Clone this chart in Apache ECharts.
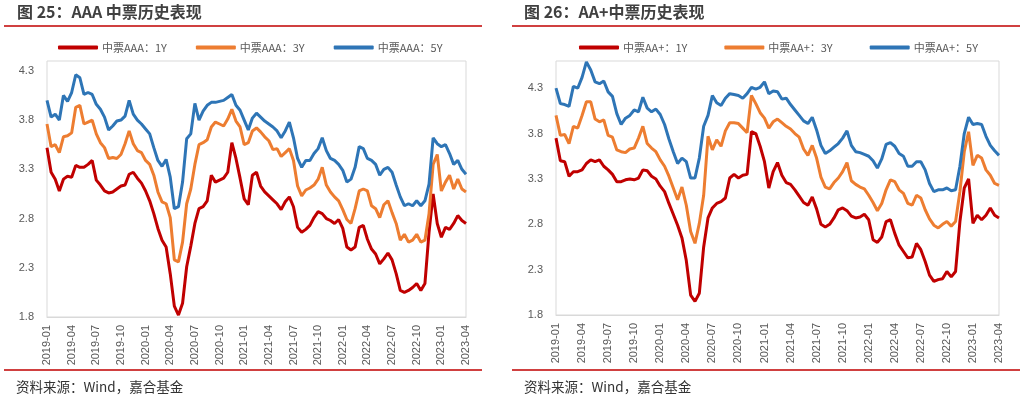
<!DOCTYPE html>
<html>
<head>
<meta charset="utf-8">
<script src="https://cdn.jsdelivr.net/npm/echarts@6/dist/echarts.min.js"></script>
<style>html,body{margin:0;padding:0;background:#fff;}#c{width:1024px;height:403px;}</style>
</head>
<body>
<div id="c"></div>
<script>
// Semi-monthly category axis, 2019-01 .. 2023-04
const dates = [];
for (let y = 2019; y <= 2023; y++) {
  for (let m = 1; m <= 12; m++) {
    if (y === 2023 && m > 3) break;
    const mm = (m < 10 ? '0' : '') + m;
    dates.push(y + '-' + mm + '-01');
    dates.push(y + '-' + mm + '-16');
  }
}
dates.push('2023-04-01');

const yTicksLeft = [1.8, 2.3, 2.8, 3.3, 3.8, 4.3];
const yTicksRight = [1.8, 2.3, 2.8, 3.3, 3.8, 4.3];

const namesLeft = ['中票AAA：1Y', '中票AAA：3Y', '中票AAA：5Y'];
const namesRight = ['中票AA+：1Y', '中票AA+：3Y', '中票AA+：5Y'];

const aaa1Y = [3.52,3.27,3.20,3.08,3.20,3.23,3.22,3.34,3.32,3.32,3.35,3.39,3.19,3.14,3.08,3.06,3.07,3.10,3.13,3.14,
  3.25,3.27,3.21,3.16,3.08,2.98,2.85,2.70,2.58,2.51,2.24,1.91,1.82,1.94,2.31,2.52,2.75,2.90,2.92,2.98,
  3.24,3.17,3.19,3.21,3.27,3.57,3.41,3.21,3.00,2.94,3.24,3.27,3.13,3.07,3.03,2.99,2.95,2.89,2.97,3.02,
  2.92,2.71,2.66,2.69,2.73,2.81,2.87,2.85,2.80,2.78,2.75,2.79,2.70,2.51,2.48,2.51,2.71,2.73,2.59,2.49,
  2.44,2.34,2.39,2.45,2.38,2.24,2.07,2.05,2.07,2.10,2.14,2.07,2.14,2.66,3.05,2.75,2.61,2.71,2.69,2.75,
  2.83,2.78,2.75];
const aaa3Y = [3.76,3.53,3.55,3.47,3.63,3.64,3.67,3.93,3.95,3.76,3.78,3.80,3.66,3.57,3.52,3.41,3.42,3.41,3.45,3.56,
  3.69,3.56,3.49,3.47,3.39,3.35,3.24,3.07,2.97,2.95,2.81,2.38,2.36,2.56,2.95,3.10,3.35,3.55,3.57,3.60,
  3.73,3.78,3.76,3.74,3.81,3.91,3.79,3.73,3.55,3.57,3.69,3.72,3.68,3.63,3.59,3.50,3.51,3.43,3.47,3.51,
  3.39,3.13,3.03,3.09,3.11,3.14,3.20,3.32,3.14,3.07,3.02,2.98,2.89,2.79,2.75,2.90,3.08,3.10,3.08,2.93,
  2.90,2.81,2.94,2.98,2.86,2.75,2.58,2.64,2.56,2.58,2.64,2.56,2.58,2.85,3.35,3.45,3.08,3.17,3.24,3.10,
  3.20,3.10,3.07];
const aaa5Y = [4.00,3.83,3.86,3.80,4.05,3.99,4.08,4.26,4.23,4.06,4.08,4.06,3.96,3.91,3.83,3.70,3.74,3.79,3.80,3.84,
  4.00,3.86,3.80,3.76,3.71,3.66,3.52,3.39,3.33,3.40,3.22,2.90,2.92,3.17,3.61,3.66,3.97,3.80,3.89,3.95,
  3.98,3.98,3.99,4.00,4.03,4.06,3.95,3.90,3.80,3.70,3.82,3.87,3.83,3.79,3.76,3.73,3.69,3.62,3.69,3.78,
  3.62,3.41,3.32,3.39,3.39,3.46,3.51,3.62,3.49,3.41,3.39,3.35,3.29,3.17,3.20,3.32,3.53,3.51,3.41,3.39,
  3.35,3.24,3.30,3.32,3.27,3.14,3.02,2.93,2.95,2.93,2.98,2.93,2.98,3.15,3.62,3.56,3.53,3.55,3.46,3.35,
  3.39,3.30,3.25];

const aap1Y = [3.75,3.50,3.49,3.33,3.38,3.38,3.40,3.47,3.51,3.49,3.51,3.44,3.40,3.35,3.27,3.27,3.29,3.30,3.29,3.31,
  3.40,3.39,3.33,3.30,3.22,3.16,3.03,2.91,2.79,2.65,2.40,2.02,1.95,2.04,2.55,2.87,2.98,3.03,3.05,3.09,
  3.31,3.35,3.31,3.34,3.35,3.82,3.80,3.66,3.49,3.20,3.38,3.48,3.34,3.26,3.24,3.18,3.11,3.04,3.01,3.10,
  2.97,2.80,2.77,2.80,2.87,2.96,2.98,2.95,2.89,2.87,2.88,2.91,2.85,2.63,2.60,2.66,2.83,2.85,2.70,2.57,
  2.50,2.43,2.44,2.59,2.52,2.39,2.24,2.17,2.19,2.20,2.28,2.22,2.28,2.83,3.20,3.30,2.81,2.90,2.85,2.90,
  2.98,2.90,2.87];
const aap3Y = [4.00,3.78,3.79,3.69,3.88,3.86,4.00,4.15,4.15,3.96,3.93,3.95,3.78,3.76,3.62,3.60,3.59,3.63,3.64,3.75,
  3.88,3.69,3.64,3.60,3.51,3.44,3.33,3.20,3.07,3.21,3.01,2.72,2.59,2.81,3.12,3.77,3.62,3.73,3.66,3.83,
  3.92,3.92,3.91,3.86,3.81,4.22,4.13,4.03,3.97,3.86,3.93,3.96,3.92,3.88,3.85,3.80,3.76,3.63,3.56,3.67,
  3.53,3.32,3.21,3.19,3.26,3.31,3.38,3.48,3.28,3.24,3.21,3.19,3.12,3.04,2.95,3.03,3.18,3.29,3.27,3.18,
  3.14,3.03,3.01,3.12,3.09,2.96,2.86,2.79,2.76,2.80,2.83,2.78,2.83,3.16,3.60,3.82,3.45,3.56,3.53,3.40,
  3.34,3.25,3.23];
const aap5Y = [4.30,4.13,4.12,4.10,4.32,4.30,4.42,4.59,4.50,4.37,4.35,4.38,4.26,4.21,4.02,3.90,3.97,4.00,4.06,4.04,
  4.20,4.08,4.04,4.07,4.01,3.90,3.74,3.60,3.47,3.53,3.49,3.31,3.31,3.53,3.88,4.00,4.22,4.14,4.11,4.19,
  4.24,4.23,4.22,4.19,4.24,4.31,4.29,4.31,4.37,4.24,4.27,4.26,4.18,4.19,4.12,4.06,4.00,3.94,3.91,3.98,
  3.84,3.67,3.58,3.61,3.65,3.69,3.75,3.83,3.67,3.60,3.59,3.57,3.55,3.50,3.42,3.52,3.68,3.70,3.66,3.58,
  3.55,3.44,3.44,3.49,3.49,3.40,3.25,3.16,3.18,3.18,3.20,3.17,3.18,3.44,3.80,3.98,3.90,3.91,3.90,3.77,
  3.67,3.61,3.56];

const colors = ['#C00000', '#ED7D31', '#2E75B6'];
const FONT = '"Liberation Sans", "Noto Sans CJK SC", sans-serif';
const CJK = '"Noto Sans CJK SC", "Liberation Sans", sans-serif';

function xAxis(gi) {
  return {
    type: 'category', gridIndex: gi, data: dates, boundaryGap: false,
    axisLine: { show: true, lineStyle: { color: '#d9d9d9' } },
    axisTick: { show: false },
    axisLabel: {
      rotate: 90, color: '#595959', fontSize: 11, margin: 8, fontFamily: FONT,
      interval: function (i) { return i % 6 === 0; },
      formatter: function (v) { return v.slice(0, 7); }
    },
    splitLine: { show: false }
  };
}
function yAxis(gi, max, ticks) {
  return {
    type: 'value', gridIndex: gi, min: ticks[0], max: max, interval: 0.5,
    axisLine: { show: false }, axisTick: { show: false }, splitLine: { show: false },
    axisLabel: { color: '#595959', fontSize: 11, margin: 13, fontFamily: FONT, showMaxLabel: false,
      formatter: function (v) { return v.toFixed(1); } }
  };
}
function series(name, data, ci, gi) {
  return { name: name, type: 'line', data: data, xAxisIndex: gi, yAxisIndex: gi,
    showSymbol: false, symbol: 'none', lineStyle: { width: 3, color: colors[ci] }, itemStyle: { color: colors[ci] } };
}
function legend(names, left, gap) {
  return { data: names, left: left, top: 37, itemWidth: 40, itemHeight: 4, itemGap: gap, icon: 'roundRect',
    textStyle: { color: '#595959', fontSize: 11, fontFamily: CJK, padding: [0, 0, 0, -1] } };
}
function hline(x1, x2, y) {
  return { type: 'line', shape: { x1: x1, y1: y, x2: x2, y2: y }, style: { stroke: '#C00000', lineWidth: 1.5 } };
}
function text(x, y, t, size, weight, color) {
  return { type: 'text', x: x, y: y, style: { text: t, fontSize: size, fontWeight: weight, fill: color,
    fontFamily: CJK, textVerticalAlign: 'middle' } };
}

const chart = echarts.init(document.getElementById('c'), null, { renderer: 'canvas' });
chart.setOption({
  animation: false,
  backgroundColor: '#fff',
  textStyle: { fontFamily: FONT },
  grid: [
    { left: 47, right: 558, top: 61, bottom: 86, show: true, borderColor: '#d9d9d9', borderWidth: 1 },
    { left: 556, right: 25, top: 61, bottom: 88, show: true, borderColor: '#d9d9d9', borderWidth: 1 }
  ],
  xAxis: [xAxis(0), xAxis(1)],
  yAxis: [yAxis(0, 4.4, yTicksLeft), yAxis(1, 4.6, yTicksRight)],
  legend: [legend(namesLeft, 53, 29), legend(namesRight, 574, 37)],
  series: [
    series(namesLeft[0], aaa1Y, 0, 0), series(namesLeft[1], aaa3Y, 1, 0), series(namesLeft[2], aaa5Y, 2, 0),
    series(namesRight[0], aap1Y, 0, 1), series(namesRight[1], aap3Y, 1, 1), series(namesRight[2], aap5Y, 2, 1)
  ],
  graphic: [
    text(17, 12, '图 25：AAA 中票历史表现', 16, 'bold', '#404040'),
    text(524, 12, '图 26：AA+中票历史表现', 16, 'bold', '#404040'),
    hline(4, 482, 26), hline(512, 1020, 26),
    hline(4, 482, 370), hline(512, 1020, 370),
    text(16, 387, '资料来源：Wind，嘉合基金', 13.5, 'normal', '#333333'),
    text(524, 387, '资料来源：Wind，嘉合基金', 13.5, 'normal', '#333333')
  ]
});
</script>
</body>
</html>
